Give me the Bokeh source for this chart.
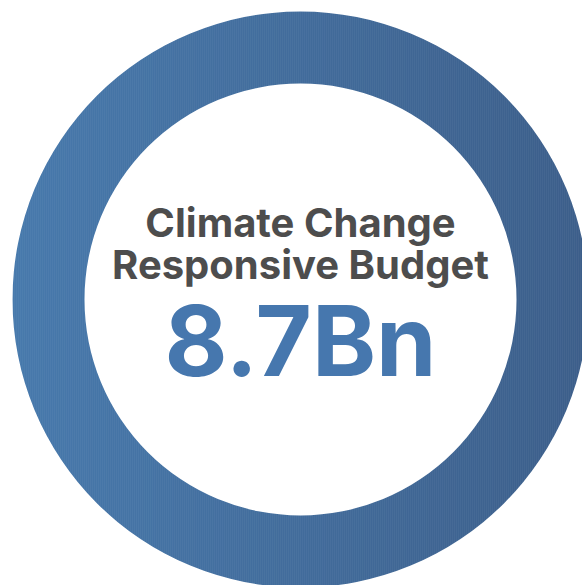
from bokeh.plotting import figure
from bokeh.models import Range1d, ColumnDataSource
from bokeh.core.properties import value
from bokeh.embed import file_html
from bokeh.resources import INLINE
import numpy as np

# ---- data ----
title_lines = ["Climate Change", "Responsive Budget"]
headline = ["8.7Bn"]
share = [1.0]  # full ring

# ---- geometry / style ----
W, H = 582, 585
cx, cy = 300, 299
r_out, r_in = 288, 216
col_left = np.array([71, 121, 172])
col_right = np.array([60, 94, 138])

p = figure(width=W, height=H, output_backend="svg", toolbar_location=None,
           x_range=Range1d(0, W), y_range=Range1d(H, 0),
           min_border=0, background_fill_color="white")
p.axis.visible = False
p.grid.visible = False
p.outline_line_color = None

# gradient strips across the ring's bounding box
n = 288
edges = np.linspace(cx - r_out, cx + r_out, n + 1)
xs = (edges[:-1] + edges[1:]) / 2
t = (xs - xs[0]) / (xs[-1] - xs[0])
cols = ["#%02x%02x%02x" % tuple(int(round(v)) for v in (col_left + (col_right - col_left) * ti)) for ti in t]
src = ColumnDataSource(dict(x=xs, top=[cy - r_out - 2] * n, bottom=[cy + r_out + 2] * n, c=cols))
w = (edges[1] - edges[0]) * share[0] + 0.6
p.vbar(x="x", top="top", bottom="bottom", width=w, fill_color="c", line_color=None, source=src)

# mask outside and inside
p.annulus(x=[cx], y=[cy], inner_radius=r_out, outer_radius=2000, fill_color="white", line_color=None)
p.circle(x=[cx], y=[cy], radius=r_in, fill_color="white", line_color=None)

# texts
p.text(x=[cx, cx], y=[222, 264], text=title_lines, text_align="center", text_baseline="alphabetic",
       text_font=value("Inter"), text_font_style="bold", text_font_size="40px", text_color="#4d4d4d")
p.text(x=[cx], y=[340], text=headline, text_align="center", text_baseline="alphabetic",
       text_font=value("Inter"), text_font_style="bold", text_font_size="97px", text_color="#4677ae")

open("out.html", "w").write(file_html(p, INLINE))
